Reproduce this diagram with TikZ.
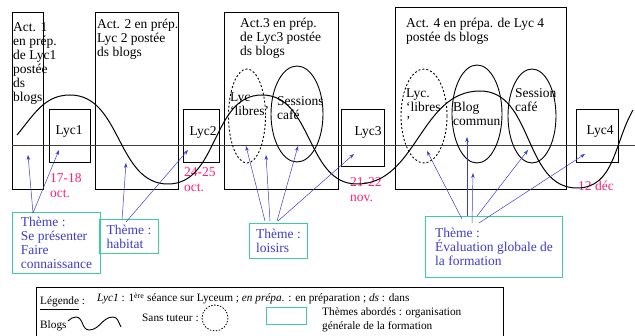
\documentclass[tikz,border=0pt]{standalone}
\usepackage{fontspec}
\setmainfont{Liberation Serif}
\usetikzlibrary{arrows.meta}
\definecolor{bleutheme}{RGB}{60,60,205}
\definecolor{vertbord}{RGB}{60,205,160}
\definecolor{rosedate}{RGB}{255,30,120}

\begin{document}
\begin{tikzpicture}[x=1pt, y=-1pt, >={Stealth[length=5pt,width=3.5pt]},
    txt/.style={anchor=north west, inner sep=0pt, align=left, font=\fontsize{13.5}{14}\selectfont},
    lbl/.style={inner sep=0pt, font=\fontsize{13.5}{14}\selectfont},
    act/.style={draw, line width=0.8pt},
    datelbl/.style={txt, text=rosedate, font=\fontsize{13.5}{15}\selectfont},
    theme/.style={draw=vertbord, line width=1pt, anchor=north west, align=left, text=bleutheme,
      inner sep=1pt, font=\fontsize{13.5}{14}\selectfont},
    fleche/.style={->, bleutheme, line width=0.5pt},
    leg/.style={anchor=base west, inner sep=0pt, font=\fontsize{11.3}{14}\selectfont}]
    \useasboundingbox (0,0) rectangle (635,336);

    % Boîtes des activités et des séances
    \draw[act] (12,12) rectangle (43,189);
    \draw[act] (95,12) rectangle (178,189);
    \draw[act] (224,12) rectangle (338,189);
    \draw[act] (395,7) rectangle (566,189);
    \draw[act] (49,109) rectangle (90,162);
    \draw[act] (183,109) rectangle (219,162);
    \draw[act] (341,109) rectangle (384,166);
    \draw[act] (576,109) rectangle (618,162);

    % Axe du temps
    \draw[black!75, line width=0.8pt] (12,145) -- (635,145);

    % Ellipses (pointillé : sans tuteur)
    \draw[line width=0.9pt, dash pattern=on 2pt off 2pt] (247,116) ellipse [x radius=18.5, y radius=47];
    \draw[line width=0.9pt] (297,114) ellipse [x radius=26, y radius=48];
    \draw[line width=0.9pt, dash pattern=on 2pt off 2pt] (424,116) ellipse [x radius=23, y radius=47];
    \draw[line width=0.9pt] (477,114) ellipse [x radius=25, y radius=49];
    \draw[line width=0.9pt] (532,116) ellipse [x radius=24, y radius=47];

    % Textes des activités
    \node[txt] (act1) at (13,22) {Act. 1\\en prép.\\de Lyc1\\postée\\ds\\blogs};
    \node[txt] (act2) at (97,19) {Act. 2 en prép.\\Lyc 2 postée\\ds blogs};
    \node[txt] (act3) at (240,18) {Act.3 en prép.\\de Lyc3 postée\\ds blogs};
    \node[txt] (act4) at (406,18) {Act. 4 en prépa. de Lyc 4\\postée ds blogs};
    \node[txt] (libres3) at (230,92) {Lyc\\‘libres’};
    \node[txt] (sess3) at (277,96) {Sessions\\café};
    \node[txt] (libres4) at (406,88) {Lyc.\\‘libres\\’};
    \node[txt] (blog) at (453,102) {Blog\\commun};
    \node[txt] (sess4) at (515,88) {Session\\café};
    \node[lbl] (lyc1) at (69,132) {Lyc1};
    \node[lbl] (lyc2) at (203,132) {Lyc2};
    \node[lbl] (lyc3) at (368,132) {Lyc3};
    \node[lbl] (lyc4) at (600,132) {Lyc4};

    % Dates
    \node[datelbl] (d1) at (50,173) {17-18\\oct.};
    \node[datelbl] (d2) at (184,167) {24-25\\oct.};
    \node[datelbl] (d3) at (350,177) {21-22\\nov.};
    \node[datelbl] (d4) at (578,181) {12 déc};

    % Blogs
    \draw[line width=1pt] (17,135) to[out=50, in=180] (70,95) to[out=0, in=180] (168,184)
        to[out=0, in=180] (262,95) to[out=0, in=180] (357,184) to[out=0, in=180] (480,91)
        to[out=0, in=180] (577,188) to[out=0, in=240] (633,110);

    % Thèmes
    \node[theme, minimum width=88, minimum height=61] (t1) at (12,212) {Thème :\\Se présenter\\Faire\\connaissance};
    \node[theme, minimum width=59, minimum height=34] (t2) at (99,219) {Thème :\\habitat};
    \node[theme, minimum width=58, minimum height=35] (t3) at (249,223) {Thème :\\loisirs};
    \node[theme, minimum width=137, minimum height=61] (t4) at (425,216) {Thème :\\Évaluation globale de\\la formation};

    % Cibles des flèches
    \coordinate (c1a) at (28,155);
    \coordinate (c1b) at (59,150);
    \coordinate (c2a) at (126,163);
    \coordinate (c2b) at (188,150);
    \coordinate (c3a) at (246,146);
    \coordinate (c3b) at (266,155);
    \coordinate (c3c) at (298,146);
    \coordinate (c3d) at (354,154);
    \coordinate (c4a) at (427,151);
    \coordinate (c4b) at (467,137);
    \coordinate (c4c) at (473,173);
    \coordinate (c4d) at (528,150);
    \coordinate (c4e) at (585,154);

    \draw[fleche] ([shift={(21,1)}]t1.north west) -- (c1a);
    \draw[fleche] ([shift={(21,1)}]t1.north west) -- (c1b);
    \draw[fleche] ([shift={(23,1)}]t2.north west) -- (c2a);
    \draw[fleche] ([shift={(27,3)}]t2.north west) -- (c2b);
    \draw[fleche] ([shift={(16,-2)}]t3.north west) -- (c3a);
    \draw[fleche] ([shift={(21,-2)}]t3.north west) -- (c3b);
    \draw[fleche] ([shift={(28,-2)}]t3.north west) -- (c3c);
    \draw[fleche] ([shift={(29,-2)}]t3.north west) -- (c3d);
    \draw[fleche] ([shift={(37,3)}]t4.north west) -- (c4a);
    \draw[fleche] ([shift={(42,0)}]t4.north west) -- (c4b);
    \draw[fleche] ([shift={(47,7)}]t4.north west) -- (c4c);
    \draw[fleche] ([shift={(52,0)}]t4.north west) -- (c4d);
    \draw[fleche] ([shift={(54,7)}]t4.north west) -- (c4e);

    % Légende
    \draw[line width=0.8pt] (36,336) -- (36,287) -- (503,287) -- (503,336);
    \node[leg] (legende) at (40,305) {\underline{Légende} :};
    \node[leg] (abrev) at (97,302) {\textit{Lyc1} : 1\textsuperscript{ère} séance sur Lyceum ; \textit{en prépa.} : en préparation ; \textit{ds} : dans};
    \node[leg] (blogs) at (40,329) {Blogs};
    \draw[line width=0.9pt] (68,321) to[out=40, in=180] (76,317) to[out=0, in=180] (89,330)
        to[out=0, in=180] (113,317) to[out=0, in=120] (121,327);
    \node[leg] (sanstuteur) at (142,322) {Sans tuteur :};
    \draw[line width=0.8pt, dash pattern=on 1.5pt off 1.5pt] (215,318) circle [radius=13];
    \draw[draw=vertbord, line width=1pt] (266,308) rectangle (306,325);
    \node[leg, anchor=north west, align=left] (themes) at (322,307) {Thèmes abordés : organisation\\générale de la formation};
\end{tikzpicture}
\end{document}
